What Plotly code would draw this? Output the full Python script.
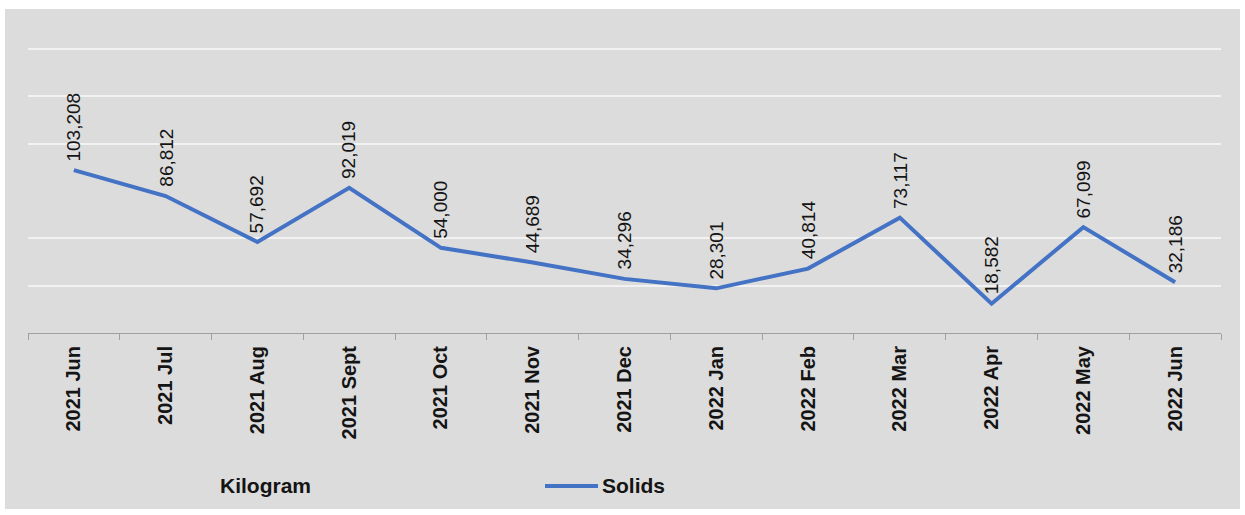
import plotly.graph_objects as go

# Monthly solids collected (kilogram)
months = ["2021 Jun", "2021 Jul", "2021 Aug", "2021 Sept", "2021 Oct", "2021 Nov",
          "2021 Dec", "2022 Jan", "2022 Feb", "2022 Mar", "2022 Apr", "2022 May",
          "2022 Jun"]
solids = [103208, 86812, 57692, 92019, 54000, 44689, 34296, 28301, 40814,
          73117, 18582, 67099, 32186]
grid_values = [30000, 60000, 120000, 150000, 180000]

LINE_COLOR = "#4472c4"
PANEL = "#dcdcdc"
FONT = "Liberation Sans, Arial, sans-serif"

# Plot area geometry (pixels) used to place the paper-referenced extras
PLOT_LEFT, PLOT_RIGHT, PLOT_TOP, PLOT_BOTTOM = 28, 1221, 46, 333
Y_MAX = 181900


def px_x(p):
    return (p - PLOT_LEFT) / (PLOT_RIGHT - PLOT_LEFT)


def px_y(p):
    return (PLOT_BOTTOM - p) / (PLOT_BOTTOM - PLOT_TOP)


fig = go.Figure()
fig.add_trace(go.Scatter(
    x=months, y=solids, mode="lines", name="Solids",
    line=dict(color=LINE_COLOR, width=4),
    showlegend=False, hoverinfo="x+y",
))

# Rotated value labels above each point
for m, v in zip(months, solids):
    fig.add_annotation(
        x=m, y=v, text=f"{v:,}", textangle=-90, showarrow=False,
        xanchor="center", yanchor="bottom", yshift=7,
        font=dict(family=FONT, size=19, color="#141414"),
    )

# Grey chart panel behind the plot
fig.add_shape(type="rect", xref="paper", yref="paper",
              x0=px_x(5), x1=px_x(1240), y0=px_y(509), y1=px_y(9),
              fillcolor=PANEL, line=dict(width=0), layer="below")

# Unit caption and legend entry
fig.add_annotation(x=px_x(265), y=px_y(485), xref="paper", yref="paper",
                   text="<b>Kilogram</b>", showarrow=False,
                   xanchor="center", yanchor="middle",
                   font=dict(family=FONT, size=21, color="#141414"))
fig.add_shape(type="line", xref="paper", yref="paper",
              x0=px_x(545), x1=px_x(598), y0=px_y(486), y1=px_y(486),
              line=dict(color=LINE_COLOR, width=4))
fig.add_annotation(x=px_x(600), y=px_y(486), xref="paper", yref="paper",
                   text="<b>Solids</b>", showarrow=False,
                   xanchor="left", yanchor="middle",
                   font=dict(family=FONT, size=21, color="#141414"))

fig.update_layout(
    width=1245, height=515,
    margin=dict(l=PLOT_LEFT, r=1245 - PLOT_RIGHT, t=PLOT_TOP, b=515 - PLOT_BOTTOM),
    paper_bgcolor="white", plot_bgcolor=PANEL,
    font=dict(family=FONT, color="#141414"),
)
fig.update_xaxes(
    type="category", range=[-0.5, len(months) - 0.5],
    showgrid=False, showline=True, linecolor="#a0a0a0", linewidth=1,
    ticks="outside", tickson="boundaries", ticklen=6, tickcolor="#a0a0a0",
    tickangle=-90, tickfont=dict(family=FONT, size=20, color="#141414"),
    ticklabelstandoff=4,
    tickprefix="<b>", ticksuffix="</b>",
)
fig.update_yaxes(
    range=[0, Y_MAX], tickvals=grid_values, showticklabels=False,
    showgrid=True, gridcolor="#f2f2f2", gridwidth=2, zeroline=False,
    showline=False,
)

fig.write_html("out.html")
